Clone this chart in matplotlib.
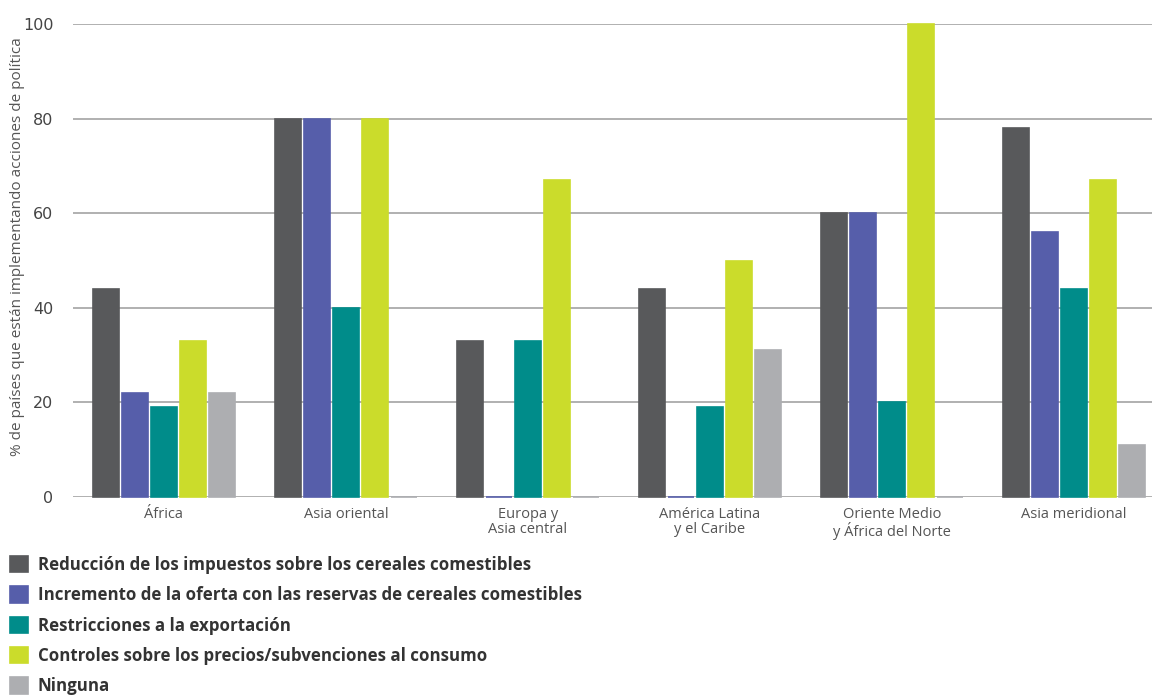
import numpy as np
import matplotlib
matplotlib.use('Agg')
import matplotlib.pyplot as plt

regions = ['África', 'Asia oriental', 'Europa y\nAsia central',
           'América Latina\ny el Caribe', 'Oriente Medio\ny África del Norte',
           'Asia meridional']
series = ['Reducción de los impuestos sobre los cereales comestibles',
          'Incremento de la oferta con las reservas de cereales comestibles',
          'Restricciones a la exportación',
          'Controles sobre los precios/subvenciones al consumo',
          'Ninguna']
tax_cut = [44, 80, 33, 44, 60, 78]
reserves = [22, 80, 0, 0, 60, 56]
export_limits = [19, 40, 33, 19, 20, 44]
price_controls = [33, 80, 67, 50, 100, 67]
none = [22, 0, 0, 31, 0, 11]
values = [tax_cut, reserves, export_limits, price_controls, none]
colors = ['#58595b', '#565eaa', '#008c8a', '#cbdc2b', '#adaeb1']

plt.rcParams['font.family'] = ['Open Sans', 'DejaVu Sans']

fig = plt.figure(figsize=(11.52, 7.0), dpi=100)
ax = fig.add_axes([73 / 1152, 1 - 497 / 700, 1092 / 1152, 473 / 700])

x = np.arange(len(regions))
step = 29 / 182
width = 26 / 182
handles = []
for i, (vals, col) in enumerate(zip(values, colors)):
    pos = x + (i - 2) * step
    b = ax.bar(pos, vals, width=width, color=col, edgecolor=col,
               linewidth=1.2, zorder=3, label=series[i], clip_on=False)
    handles.append(b)

ax.set_xlim(-0.5, len(regions) - 0.5)
ax.set_ylim(0, 100)
ax.set_yticks(range(0, 101, 20))
ax.yaxis.grid(True, color='#a3a3a3', linewidth=1.2, zorder=0)
ax.set_axisbelow(True)
for s in ax.spines.values():
    s.set_visible(False)
ax.tick_params(axis='y', length=0, pad=14, labelsize=11.5, labelcolor='#444444')
for t in ax.get_yticklabels():
    t.set_fontfamily(['Liberation Sans Narrow', 'DejaVu Sans'])
ax.set_xticks(x)
ax.set_xticklabels(regions, fontsize=10.5, color='#555555', linespacing=1.05)
ax.tick_params(axis='x', length=0, pad=7)

ax.set_ylabel('% de países que están implementando acciones de política',
              fontsize=11, color='#555555')
ax.yaxis.set_label_coords(-48 / 1092, 0.53)

fig.legend(handles=handles, labels=series, loc='upper left',
           bbox_to_anchor=(3 / 1152, 1 - 549 / 700), frameon=False,
           handlelength=1.1, handleheight=1.1, handletextpad=0.55,
           labelspacing=0.73, borderaxespad=0,
           prop={'family': 'Open Sans', 'weight': 'bold', 'size': 12.2},
           labelcolor='#333333')

fig.savefig('out.png', dpi=100)
